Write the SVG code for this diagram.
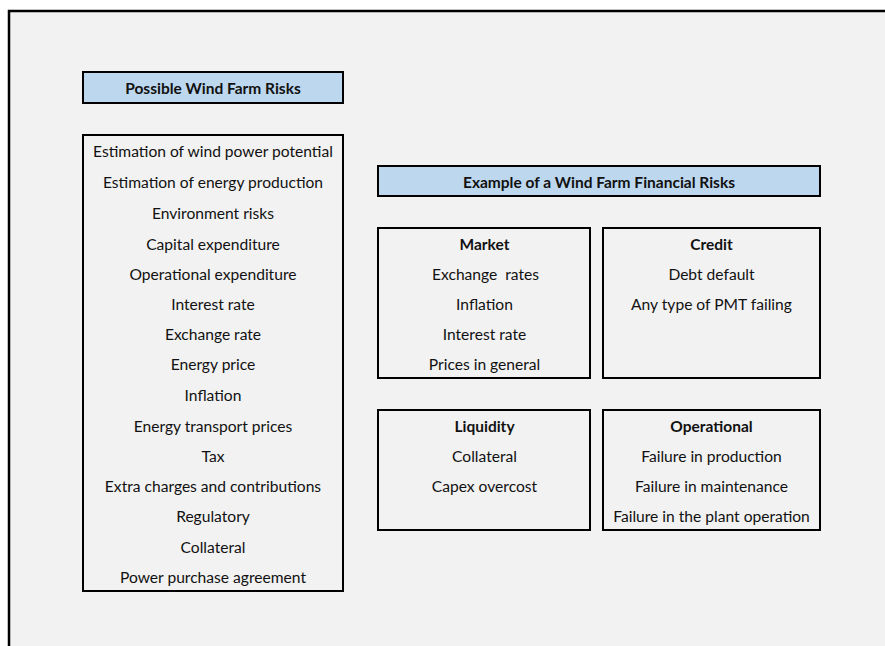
<svg xmlns="http://www.w3.org/2000/svg" width="885" height="646" viewBox="0 0 885 646">
<style>
.box{fill:#f2f2f2;stroke:#000;stroke-width:2}
.hdr{fill:#bdd7ee;stroke:#000;stroke-width:2}
text{font-family:Lato,"Open Sans","Liberation Sans",sans-serif;font-size:15.6px;fill:#111;text-anchor:middle}
.b{font-weight:bold;font-size:15.5px}
</style>
<rect x="0" y="0" width="885" height="646" fill="#fff"/>
<rect x="9" y="11" width="900" height="700" fill="#f2f2f2" stroke="#000" stroke-width="2.5"/>
<g id="title-possible">
<rect class="hdr" x="83" y="72" width="260" height="31"/>
<text class="b" x="213" y="94">Possible Wind Farm Risks</text>
</g>
<g id="list-possible">
<rect class="box" x="83" y="135" width="260" height="456"/>
<text x="213" y="157">Estimation of wind power potential</text>
<text x="213" y="188">Estimation of energy production</text>
<text x="213" y="219">Environment risks</text>
<text x="213" y="250">Capital expenditure</text>
<text x="213" y="280">Operational expenditure</text>
<text x="213" y="310">Interest rate</text>
<text x="213" y="340">Exchange rate</text>
<text x="213" y="370">Energy price</text>
<text x="213" y="401">Inflation</text>
<text x="213" y="432">Energy transport prices</text>
<text x="213" y="462">Tax</text>
<text x="213" y="492">Extra charges and contributions</text>
<text x="213" y="522">Regulatory</text>
<text x="213" y="553">Collateral</text>
<text x="213" y="583">Power purchase agreement</text>
</g>
<g id="title-financial">
<rect class="hdr" x="378" y="166" width="442" height="30"/>
<text class="b" x="599" y="188">Example of a Wind Farm Financial Risks</text>
</g>
<g id="market">
<rect class="box" x="378" y="228" width="212" height="150"/>
<text class="b" x="484.5" y="250">Market</text>
<text x="485.5" y="280" xml:space="preserve">Exchange  rates</text>
<text x="484.5" y="310">Inflation</text>
<text x="484.5" y="340">Interest rate</text>
<text x="484.5" y="370">Prices in general</text>
</g>
<g id="credit">
<rect class="box" x="603" y="228" width="217" height="150"/>
<text class="b" x="711.5" y="250">Credit</text>
<text x="711.5" y="280">Debt default</text>
<text x="711.5" y="310">Any type of PMT failing</text>
</g>
<g id="liquidity">
<rect class="box" x="378" y="410" width="212" height="120"/>
<text class="b" x="484.5" y="432">Liquidity</text>
<text x="484.5" y="462">Collateral</text>
<text x="484.5" y="492">Capex overcost</text>
</g>
<g id="operational">
<rect class="box" x="603" y="410" width="217" height="120"/>
<text class="b" x="711.5" y="432">Operational</text>
<text x="711.5" y="462">Failure in production</text>
<text x="711.5" y="492">Failure in maintenance</text>
<text x="711.5" y="522">Failure in the plant operation</text>
</g>
<g id="connectors"></g>
</svg>
